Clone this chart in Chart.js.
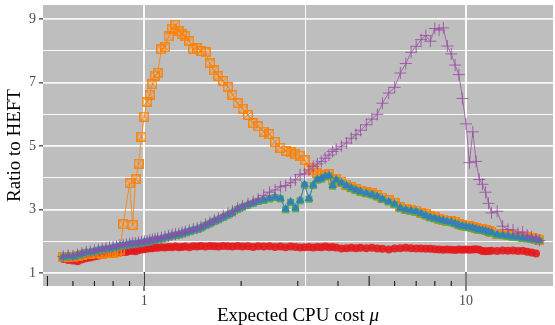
<!DOCTYPE html>
<html>
<head>
<meta charset="utf-8">
<title>Ratio to HEFT</title>
<script src="https://cdn.jsdelivr.net/npm/chart.js@4.4.1/dist/chart.umd.min.js"></script>
<style>
    html, body { margin: 0; padding: 0; background: #ffffff; }
    #chart { display: block; }
</style>
</head>
<body>
<canvas id="chart" width="555" height="325"></canvas>
<script>
// expected CPU cost (shared x values of every series)
const mu = [
    0.56, 0.58, 0.60, 0.62, 0.64, 0.66, 0.68, 0.70, 0.72, 0.74,
    0.76, 0.78, 0.80, 0.82, 0.84, 0.86, 0.88, 0.90, 0.92, 0.94,
    0.96, 0.98, 1.00, 1.02, 1.04, 1.06, 1.08, 1.10, 1.13, 1.16,
    1.19, 1.22, 1.25, 1.28, 1.31, 1.34, 1.38, 1.42, 1.46, 1.50,
    1.55, 1.60, 1.65, 1.70, 1.76, 1.82, 1.88, 1.95, 2.02, 2.10,
    2.18, 2.26, 2.35, 2.45, 2.55, 2.65, 2.75, 2.85, 2.95, 3.05,
    3.15, 3.25, 3.35, 3.45, 3.55, 3.65, 3.75, 3.85, 3.95, 4.10,
    4.25, 4.40, 4.55, 4.70, 4.90, 5.10, 5.30, 5.50, 5.75, 6.00,
    6.25, 6.50, 6.75, 7.00, 7.25, 7.50, 7.75, 8.00, 8.25, 8.50,
    8.75, 9.00, 9.25, 9.50, 9.75, 10.0, 10.25, 10.5, 10.75, 11.0,
    11.25, 11.5, 11.75, 12.0, 12.5, 13.0, 13.5, 14.0, 14.5, 15.0,
    15.5, 16.0, 16.5, 16.9
];

const redRatio = [
    1.45, 1.42, 1.40, 1.38, 1.43, 1.47, 1.50, 1.53, 1.55, 1.58,
    1.60, 1.61, 1.63, 1.65, 1.66, 1.68, 1.67, 1.70, 1.71, 1.69,
    1.73, 1.75, 1.76, 1.78, 1.79, 1.79, 1.81, 1.80, 1.82, 1.81,
    1.83, 1.82, 1.84, 1.82, 1.83, 1.84, 1.82, 1.85, 1.84, 1.86,
    1.84, 1.86, 1.85, 1.84, 1.86, 1.85, 1.84, 1.86, 1.84, 1.85,
    1.83, 1.85, 1.84, 1.85, 1.83, 1.84, 1.82, 1.84, 1.83, 1.81,
    1.82, 1.83, 1.81, 1.83, 1.82, 1.84, 1.82, 1.83, 1.81, 1.78,
    1.79, 1.80, 1.79, 1.80, 1.79, 1.80, 1.78, 1.77, 1.75, 1.78,
    1.79, 1.80, 1.79, 1.78, 1.78, 1.77, 1.77, 1.76, 1.75, 1.74,
    1.75, 1.74, 1.73, 1.75, 1.74, 1.75, 1.74, 1.75, 1.76, 1.74,
    1.70, 1.69, 1.70, 1.71, 1.70, 1.72, 1.71, 1.72, 1.70, 1.71,
    1.68, 1.65, 1.62, null
];

const blueRatio = [
    1.52, 1.55, 1.53, 1.58, 1.62, 1.66, 1.68, 1.70, 1.74, 1.76,
    1.78, 1.79, 1.82, 1.84, 1.87, 1.89, 1.90, 1.92, 1.94, 1.93,
    1.96, 1.97, 1.99, 2.00, 2.02, 2.05, 2.06, 2.08, 2.10, 2.13,
    2.16, 2.19, 2.21, 2.23, 2.26, 2.29, 2.33, 2.37, 2.40, 2.44,
    2.52, 2.58, 2.65, 2.70, 2.78, 2.85, 2.92, 3.03, 3.10, 3.16,
    3.22, 3.28, 3.31, 3.36, 3.40, 3.36, 3.02, 3.25, 3.05, 3.30,
    3.80, 3.35, 3.78, 3.95, 3.98, 4.05, 4.08, 3.76, 3.94, 3.85,
    3.76, 3.68, 3.62, 3.57, 3.52, 3.48, 3.42, 3.34, 3.26, 3.18,
    3.05, 3.00, 2.97, 2.94, 2.88, 2.82, 2.76, 2.73, 2.69, 2.66,
    2.63, 2.61, 2.57, 2.52, 2.49, 2.47, 2.45, 2.43, 2.40, 2.37,
    2.36, 2.34, 2.30, 2.28, 2.22, 2.20, 2.18, 2.15, 2.14, 2.12,
    2.10, 2.08, 2.06, 2.04
];

const greenRatio = [
    1.50, 1.53, 1.52, 1.56, 1.60, 1.64, 1.66, 1.69, 1.72, 1.74,
    1.76, 1.78, 1.80, 1.82, 1.85, 1.87, 1.88, 1.90, 1.92, 1.92,
    1.94, 1.95, 1.97, 1.98, 2.00, 2.03, 2.04, 2.06, 2.08, 2.11,
    2.14, 2.17, 2.19, 2.21, 2.24, 2.27, 2.31, 2.35, 2.38, 2.42,
    2.50, 2.56, 2.63, 2.68, 2.76, 2.83, 2.90, 3.01, 3.08, 3.14,
    3.20, 3.26, 3.29, 3.34, 3.38, 3.34, 3.00, 3.23, 3.03, 3.28,
    3.77, 3.33, 3.76, 3.93, 3.96, 4.03, 4.06, 3.74, 3.92, 3.83,
    3.74, 3.66, 3.60, 3.55, 3.50, 3.46, 3.40, 3.32, 3.24, 3.16,
    3.03, 2.98, 2.95, 2.92, 2.86, 2.80, 2.74, 2.71, 2.67, 2.64,
    2.61, 2.59, 2.55, 2.50, 2.47, 2.45, 2.43, 2.41, 2.38, 2.35,
    2.34, 2.32, 2.28, 2.26, 2.20, 2.18, 2.16, 2.13, 2.12, 2.10,
    2.08, 2.06, 2.04, 2.02
];

const orangeRatio = [
    1.50, 1.52, 1.50, 1.55, 1.58, 1.60, 1.62, 1.63, 1.64, 1.62,
    1.65, 1.63, 1.65, 1.68, 1.72, 2.54, null, 3.83, 2.52, 3.96,
    4.45, 5.30, 5.93, 6.40, 6.62, 6.95, 7.22, 7.30, 8.05, 8.12,
    8.45, 8.70, 8.82, 8.62, 8.52, 8.48, 8.30, 8.05, 8.08, 8.00,
    7.95, 7.60, 7.38, 7.20, 7.05, 6.85, 6.62, 6.35, 6.18, 5.98,
    5.72, 5.62, 5.46, 5.38, 5.14, 4.95, 4.85, 4.80, 4.75, 4.70,
    4.55, 4.32, 4.25, 4.15, 4.08, 4.10, 4.12, 3.92, 3.97, 3.88,
    3.79, 3.71, 3.65, 3.60, 3.55, 3.51, 3.45, 3.37, 3.29, 3.21,
    3.08, 3.03, 3.00, 2.97, 2.91, 2.85, 2.79, 2.76, 2.72, 2.69,
    2.66, 2.64, 2.60, 2.55, 2.52, 2.50, 2.48, 2.46, 2.43, 2.40,
    2.39, 2.37, 2.33, 2.31, 2.25, 2.23, 2.21, 2.18, 2.17, 2.15,
    2.13, 2.11, 2.08, 2.06
];

const purpleRatio = [
    1.53, 1.56, 1.55, 1.59, 1.63, 1.67, 1.69, 1.72, 1.75, 1.77,
    1.79, 1.81, 1.83, 1.85, 1.88, 1.90, 1.91, 1.93, 1.95, 1.95,
    1.97, 1.99, 2.01, 2.02, 2.04, 2.06, 2.08, 2.10, 2.12, 2.15,
    2.18, 2.21, 2.23, 2.25, 2.28, 2.31, 2.35, 2.39, 2.42, 2.46,
    2.54, 2.60, 2.67, 2.73, 2.81, 2.88, 2.95, 3.05, 3.12, 3.19,
    3.26, 3.33, 3.45, 3.55, 3.62, 3.72, 3.76, 3.85, 3.94, 4.10,
    4.13, 4.25, 4.36, 4.44, 4.52, 4.62, 4.72, 4.83, 4.90, 5.00,
    5.10, 5.25, 5.36, 5.50, 5.67, 5.85, 6.00, 6.35, 6.67, 6.85,
    7.30, 7.60, 7.95, 8.14, 8.35, 8.48, 8.30, 8.70, 8.65, 8.72,
    8.15, 7.90, 7.55, 7.25, 6.50, 5.70, 4.48, 5.45, 4.52, 3.95,
    3.80, 3.55, 3.20, 2.90, 2.95, 2.48, 2.38, 2.36, 2.26, 2.30,
    2.20, 2.15, 2.08, 2.03
];

const xTickValues = [1, 3.1623, 10];
const xTickLabels = ['1', '', '10'];
const yTickValues = [1, 2, 3, 4, 5, 6, 7, 8, 9];
const yTickLabels = ['1', '', '3', '', '5', '', '7', '', '9'];
const logTickValues = [0.5, 0.6, 0.7, 0.8, 0.9, 1, 2, 3, 4, 5, 6, 7, 8, 9, 10];

const serif = '"Liberation Serif", "Times New Roman", serif';

function toPoints(values) {
    return mu.map((m, i) => ({x: m, y: values[i]}));
}

// open square with a cross, like ggplot shape 7
function squareCross(size, color) {
    const c = document.createElement('canvas');
    c.width = size;
    c.height = size;
    const g = c.getContext('2d');
    g.strokeStyle = color;
    g.lineWidth = 1.5;
    g.strokeRect(0.75, 0.75, size - 1.5, size - 1.5);
    g.lineWidth = 1;
    g.beginPath();
    g.moveTo(1.5, 1.5);
    g.lineTo(size - 1.5, size - 1.5);
    g.moveTo(size - 1.5, 1.5);
    g.lineTo(1.5, size - 1.5);
    g.stroke();
    return c;
}

// keep the axis boxes from adding label overhang around the panel
function noOverhang(scale) {
    scale.paddingTop = 0;
    scale.paddingBottom = 0;
    scale.paddingLeft = 0;
    scale.paddingRight = 0;
}

const panelPlugin = {
    id: 'panel',
    beforeDraw(chart) {
        const ctx = chart.ctx;
        const a = chart.chartArea;
        ctx.save();
        ctx.fillStyle = '#ffffff';
        ctx.fillRect(0, 0, chart.width, chart.height);
        ctx.fillStyle = '#bebebe';
        ctx.fillRect(a.left, a.top, a.right - a.left, a.bottom - a.top);
        ctx.restore();
    },
    afterDatasetsDraw(chart) {
        // log ticks along the bottom of the panel
        const ctx = chart.ctx;
        const xs = chart.scales.x;
        const bottom = chart.chartArea.bottom;
        ctx.save();
        ctx.strokeStyle = '#1a1a1a';
        ctx.lineWidth = 1.1;
        logTickValues.forEach(v => {
            const lead = Math.round(v / Math.pow(10, Math.floor(Math.log10(v) + 1e-9)));
            let len = 5;
            if (lead === 1) len = 14;
            else if (lead === 5) len = 10;
            const px = xs.getPixelForValue(v);
            ctx.beginPath();
            ctx.moveTo(px, bottom);
            ctx.lineTo(px, bottom - len);
            ctx.stroke();
        });
        ctx.restore();
    },
    afterDraw(chart) {
        // x title with italic mu
        const ctx = chart.ctx;
        const a = chart.chartArea;
        const plain = 'Expected CPU cost ';
        const sym = 'μ';
        ctx.save();
        ctx.fillStyle = '#000000';
        ctx.textBaseline = 'alphabetic';
        ctx.font = '19px ' + serif;
        const w1 = ctx.measureText(plain).width;
        ctx.font = 'italic 19px ' + serif;
        const w2 = ctx.measureText(sym).width;
        const x0 = (a.left + a.right) / 2 - (w1 + w2) / 2;
        const y0 = chart.height - 4;
        ctx.font = '19px ' + serif;
        ctx.fillText(plain, x0, y0);
        ctx.font = 'italic 19px ' + serif;
        ctx.fillText(sym, x0 + w1, y0);
        ctx.restore();
    }
};

function makeChart() {
    const ctx = document.getElementById('chart').getContext('2d');
    new Chart(ctx, {
        type: 'line',
        data: {
            datasets: [{
                    label: 'purple',
                    data: toPoints(purpleRatio),
                    order: 0,
                    borderColor: 'rgba(152, 78, 163, 0.85)',
                    borderWidth: 0.9,
                    pointStyle: 'cross',
                    pointRadius: 6,
                    pointBorderWidth: 1,
                    pointBorderColor: 'rgba(152, 78, 163, 0.85)',
                    pointBackgroundColor: 'rgba(152, 78, 163, 0.85)'
                }, {
                    label: 'blue',
                    data: toPoints(blueRatio),
                    order: 1,
                    borderColor: '#377eb8',
                    borderWidth: 0.9,
                    pointStyle: 'triangle',
                    pointRadius: 5,
                    pointBorderWidth: 0,
                    pointBackgroundColor: '#377eb8'
                }, {
                    label: 'green',
                    data: toPoints(greenRatio),
                    order: 2,
                    borderColor: '#4daf4a',
                    borderWidth: 0.9,
                    pointStyle: 'rect',
                    pointRadius: 5,
                    pointBorderWidth: 0,
                    pointBackgroundColor: '#4daf4a'
                }, {
                    label: 'orange',
                    data: toPoints(orangeRatio),
                    order: 3,
                    spanGaps: true,
                    borderColor: 'rgba(255, 127, 0, 0.9)',
                    borderWidth: 0.9,
                    pointStyle: squareCross(10, 'rgba(255, 127, 0, 0.9)'),
                    pointRadius: 5
                }, {
                    label: 'red',
                    data: toPoints(redRatio),
                    order: 4,
                    borderColor: '#e41a1c',
                    borderWidth: 0.9,
                    pointStyle: 'circle',
                    pointRadius: 4,
                    pointBorderWidth: 0,
                    pointBackgroundColor: 'rgba(228, 26, 28, 0.9)'
                }]
        },
        options: {
            responsive: false,
            animation: false,
            devicePixelRatio: 1,
            layout: {autoPadding: false, padding: {top: 5, right: 2, left: 0, bottom: 0}},
            plugins: {
                legend: {display: false},
                tooltip: {enabled: false}
            },
            scales: {
                x: {
                    type: 'logarithmic',
                    min: 0.4843,
                    max: 18.64,
                    bounds: 'data',
                    afterFit: function (scale) {
                        scale.height = 39;
                        noOverhang(scale);
                    },
                    afterBuildTicks: function (scale) {
                        scale.ticks = xTickValues.map(v => ({value: v}));
                    },
                    border: {display: false},
                    grid: {
                        color: 'rgba(255, 255, 255, 0.9)',
                        lineWidth: c => (c.tick && xTickLabels[c.index] === '') ? 1.1 : 2,
                        tickLength: 5,
                        tickWidth: 1.2,
                        tickColor: c => (c.tick && xTickLabels[c.index] === '') ? 'rgba(0,0,0,0)' : '#333333'
                    },
                    ticks: {
                        autoSkip: false,
                        maxRotation: 0,
                        padding: 2,
                        color: '#4d4d4d',
                        font: {family: serif, size: 14},
                        callback: (value, index) => xTickLabels[index]
                    }
                },
                y: {
                    type: 'linear',
                    min: 0.6,
                    max: 9.44,
                    bounds: 'data',
                    afterFit: function (scale) {
                        scale.width = 43;
                        noOverhang(scale);
                    },
                    afterBuildTicks: function (scale) {
                        scale.ticks = yTickValues.map(v => ({value: v}));
                    },
                    border: {display: false},
                    grid: {
                        color: 'rgba(255, 255, 255, 0.9)',
                        lineWidth: c => (c.tick && yTickLabels[c.index] === '') ? 1 : 1.7,
                        tickLength: 4,
                        tickWidth: 1.2,
                        tickColor: c => (c.tick && yTickLabels[c.index] === '') ? 'rgba(0,0,0,0)' : '#333333'
                    },
                    ticks: {
                        autoSkip: false,
                        padding: 3,
                        color: '#4d4d4d',
                        font: {family: serif, size: 14},
                        callback: (value, index) => yTickLabels[index]
                    },
                    title: {
                        display: true,
                        text: 'Ratio to HEFT',
                        color: '#000000',
                        font: {family: serif, size: 19},
                        padding: {top: 4, bottom: 0}
                    }
                }
            }
        },
        plugins: [panelPlugin]
    });
}

window.onload = function () {
    makeChart();
};
</script>
</body>
</html>
